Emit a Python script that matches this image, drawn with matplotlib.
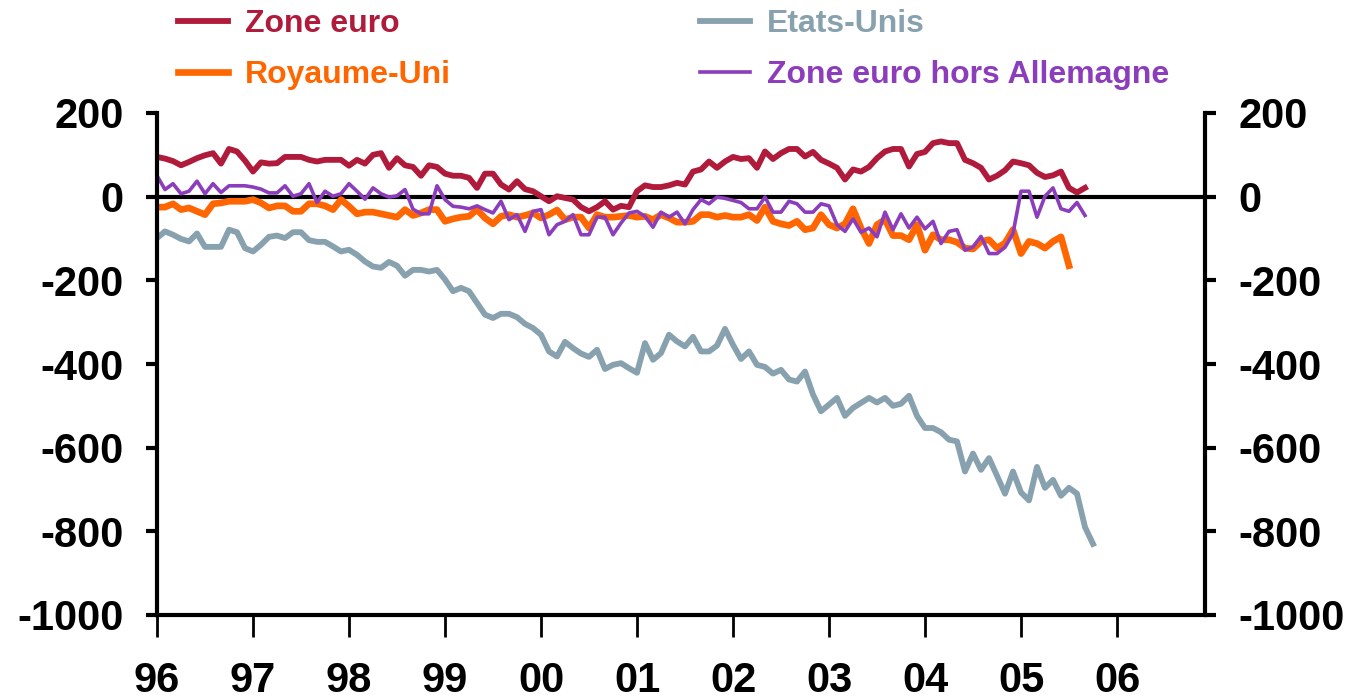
import matplotlib.pyplot as plt
import numpy as np

# monthly balances, Jan 1996 onwards
zone_euro = [95, 91, 85, 75, 83, 92, 99, 104, 79, 114,
             108, 86, 60, 82, 79, 80, 95, 95, 95, 88,
             84, 88, 88, 88, 74, 88, 79, 100, 104, 69,
             92, 75, 71, 50, 75, 71, 55, 50, 50, 45,
             21, 55, 55, 29, 17, 37, 18, 13, 1, -11,
             1, -3, -7, -25, -35, -25, -11, -31, -22, -25,
             13, 27, 23, 23, 27, 33, 29, 60, 65, 84,
             69, 84, 95, 90, 92, 69, 108, 90, 104, 114,
             114, 96, 107, 88, 79, 69, 41, 65, 60, 71,
             92, 108, 114, 114, 72, 102, 107, 128, 132, 128,
             128, 88, 80, 69, 41, 50, 63, 84, 80, 75,
             57, 47, 51, 60, 21, 10, 21]

etats_unis = [-99, -83, -91, -101, -107, -88, -120, -120, -120, -79,
              -85, -123, -131, -115, -96, -93, -99, -85, -85, -104,
              -108, -108, -119, -131, -127, -139, -155, -167, -170, -156,
              -165, -189, -175, -175, -179, -175, -198, -226, -218, -226,
              -254, -282, -290, -280, -280, -288, -304, -314, -330, -370,
              -382, -347, -362, -375, -383, -366, -412, -402, -398, -410,
              -421, -350, -390, -374, -330, -346, -358, -335, -370, -370,
              -356, -316, -354, -388, -370, -402, -407, -423, -414, -437,
              -442, -418, -473, -513, -497, -481, -524, -505, -493, -481,
              -492, -481, -500, -495, -476, -524, -553, -553, -563, -581,
              -585, -657, -614, -653, -625, -667, -710, -657, -707, -726,
              -646, -696, -677, -715, -696, -710, -790, -830]

royaume_uni = [-25, -25, -17, -31, -27, -35, -43, -17, -15, -11,
               -11, -11, -7, -15, -27, -22, -22, -35, -35, -17,
               -17, -22, -31, -7, -23, -41, -37, -37, -41, -45,
               -49, -31, -45, -39, -31, -31, -59, -53, -49, -47,
               -31, -51, -65, -47, -43, -49, -45, -39, -51, -43,
               -32, -55, -49, -49, -75, -43, -49, -49, -47, -45,
               -49, -47, -55, -43, -51, -61, -61, -59, -43, -43,
               -49, -45, -49, -49, -43, -57, -25, -59, -65, -69,
               -59, -79, -75, -43, -67, -75, -65, -29, -75, -112,
               -67, -55, -93, -93, -103, -67, -128, -91, -103, -103,
               -109, -123, -125, -107, -103, -123, -111, -79, -136, -107,
               -112, -123, -107, -96, -165]

hors_allemagne = [50, 17, 31, 7, 13, 37, 7, 31, 10, 26,
                  26, 26, 23, 18, 9, 9, 26, 1, 7, 31,
                  -14, 13, 1, 7, 31, 13, -6, 21, 7, -1,
                  2, 17, -30, -41, -41, 26, -7, -23, -25, -29,
                  -22, -31, -39, -11, -55, -43, -83, -35, -31, -91,
                  -67, -59, -43, -91, -91, -49, -49, -91, -63, -39,
                  -35, -47, -73, -37, -49, -37, -65, -31, -7, -17,
                  -1, -4, -9, -14, -29, -29, -1, -37, -37, -11,
                  -17, -37, -37, -17, -22, -67, -83, -53, -85, -75,
                  -96, -37, -79, -41, -75, -49, -77, -59, -112, -83,
                  -79, -128, -120, -95, -136, -136, -121, -88, 13, 13,
                  -49, 1, 21, -29, -35, -14, -45]

year_labels = ['96', '97', '98', '99', '00', '01', '02', '03', '04', '05', '06']
y_ticks = [200, 0, -200, -400, -600, -800, -1000]

plt.rcParams['font.family'] = ['Liberation Sans', 'DejaVu Sans']
plt.rcParams['font.weight'] = 'bold'
plt.rcParams['axes.unicode_minus'] = False

fig = plt.figure(figsize=(13.45, 7), dpi=100)
ax = fig.add_axes([157/1345, 85/700, 1048/1345, 502/700])

ax.axhline(0, color='black', lw=3, zorder=1.5)
l1, = ax.plot(np.arange(len(zone_euro)), zone_euro, color='#B01A3B', lw=4.2, label='Zone euro')
l2, = ax.plot(np.arange(len(etats_unis)), etats_unis, color='#87A1AE', lw=4.2, label='Etats-Unis')
l3, = ax.plot(np.arange(len(royaume_uni)), royaume_uni, color='#FF6600', lw=4.8, label='Royaume-Uni')
l4, = ax.plot(np.arange(len(hors_allemagne)), hors_allemagne, color='#8B3DBB', lw=2.6,
              label='Zone euro hors Allemagne')

ax.set_xlim(0, 131)
ax.set_ylim(-1000, 200)
ax.set_xticks(np.arange(len(year_labels)) * 12)
ax.set_xticklabels(year_labels)
ax.set_yticks(y_ticks)
ax.set_yticklabels([str(v) for v in y_ticks])

ax.spines['top'].set_visible(False)
for s in ['left', 'right', 'bottom']:
    ax.spines[s].set_linewidth(3)

ax.tick_params(axis='y', direction='out', length=8, width=3, labelsize=30, pad=16,
               right=True, labelright=True)
ax.tick_params(axis='x', direction='out', length=16, width=2, labelsize=30, pad=17)

fig.legend(handles=[l1, l3, l2, l4], ncol=2, loc='upper left',
           bbox_to_anchor=(178/1345, 1 - 9/700), frameon=False,
           prop={'size': 23, 'weight': 'bold'}, labelcolor='linecolor',
           handlelength=1.56, handletextpad=0.53, columnspacing=7.8,
           labelspacing=0.65, borderpad=0, borderaxespad=0)

fig.savefig('out.png', dpi=100)
